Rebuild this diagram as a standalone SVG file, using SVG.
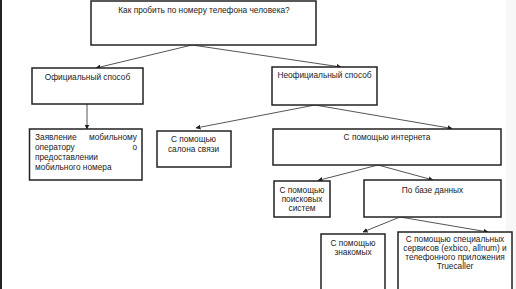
<svg xmlns="http://www.w3.org/2000/svg" width="516" height="289" viewBox="0 0 516 289">
<defs>
<marker id="ah" viewBox="0 0 10 10" refX="9" refY="5" markerWidth="5" markerHeight="5" markerUnits="userSpaceOnUse" orient="auto">
<path d="M0,0 L10,5 L0,10 z" fill="#222"/>
</marker>
</defs>
<style>
.box{fill:#fff;stroke:#222;stroke-width:1.5}
.t{font-family:"Liberation Sans",Arial,sans-serif;font-size:8.3px;fill:#222}
.c{text-anchor:middle}
.e{text-anchor:end}
.ln{stroke:#555;stroke-width:1;fill:none;marker-end:url(#ah)}
</style>
<rect x="0" y="0" width="516" height="289" fill="#fff"/>
<rect x="0" y="0" width="2" height="289" fill="#222"/>
<rect x="506" y="0" width="10" height="289" fill="#f7f7f7"/>
<g id="connectors">
<line class="ln" x1="192" y1="45" x2="96" y2="68"/>
<line class="ln" x1="192" y1="45" x2="341" y2="67"/>
<line class="ln" x1="87" y1="104" x2="87" y2="129"/>
<line class="ln" x1="315" y1="105" x2="196" y2="128"/>
<line class="ln" x1="315" y1="105" x2="452" y2="128.5"/>
<line class="ln" x1="378" y1="165" x2="318" y2="180.5"/>
<line class="ln" x1="378" y1="165" x2="433" y2="180"/>
<line class="ln" x1="400" y1="217" x2="363" y2="232"/>
<line class="ln" x1="400" y1="217" x2="488" y2="232"/>
</g>
<g id="n-top">
<rect class="box" x="91" y="1" width="225" height="44"/>
<text class="t c" x="204" y="12.5">Как пробить по номеру телефона человека?</text>
</g>
<g id="n-official">
<rect class="box" x="32" y="68" width="111" height="36"/>
<text class="t c" x="87.5" y="79.5">Официальный способ</text>
</g>
<g id="n-unofficial">
<rect class="box" x="272" y="67" width="105" height="38"/>
<text class="t c" x="324.5" y="77.5">Неофициальный способ</text>
</g>
<g id="n-statement">
<rect class="box" x="29.5" y="129" width="112.5" height="51"/>
<text class="t" x="35" y="140">Заявление</text>
<text class="t e" x="137" y="140">мобильному</text>
<text class="t" x="35" y="150">оператору</text>
<text class="t e" x="137" y="150">о</text>
<text class="t" x="35" y="160">предоставлении</text>
<text class="t" x="35" y="170">мобильного номера</text>
</g>
<g id="n-salon">
<rect class="box" x="157" y="131" width="74" height="36"/>
<text class="t c" x="193.5" y="142">С помощью</text>
<text class="t c" x="193.5" y="152">салона связи</text>
</g>
<g id="n-internet">
<rect class="box" x="273" y="129" width="228" height="36"/>
<text class="t c" x="387" y="140">С помощью интернета</text>
</g>
<g id="n-search">
<rect class="box" x="274" y="181" width="56" height="36"/>
<text class="t c" x="302" y="193">С помощью</text>
<text class="t c" x="302" y="202">поисковых</text>
<text class="t c" x="302" y="211">систем</text>
</g>
<g id="n-db">
<rect class="box" x="364" y="180" width="137" height="37"/>
<text class="t c" x="432.5" y="193">По базе данных</text>
</g>
<g id="n-friends">
<rect class="box" x="321" y="234" width="64" height="60"/>
<text class="t c" x="353" y="246">С помощью</text>
<text class="t c" x="353" y="255">знакомых</text>
</g>
<g id="n-services">
<rect class="box" x="398" y="232" width="114" height="62"/>
<text class="t c" x="455" y="242">С помощью специальных</text>
<text class="t c" x="455" y="251">сервисов (exbico, allnum) и</text>
<text class="t c" x="455" y="260">телефонного приложения</text>
<text class="t c" x="455" y="269">Truecaller</text>
</g>
</svg>
